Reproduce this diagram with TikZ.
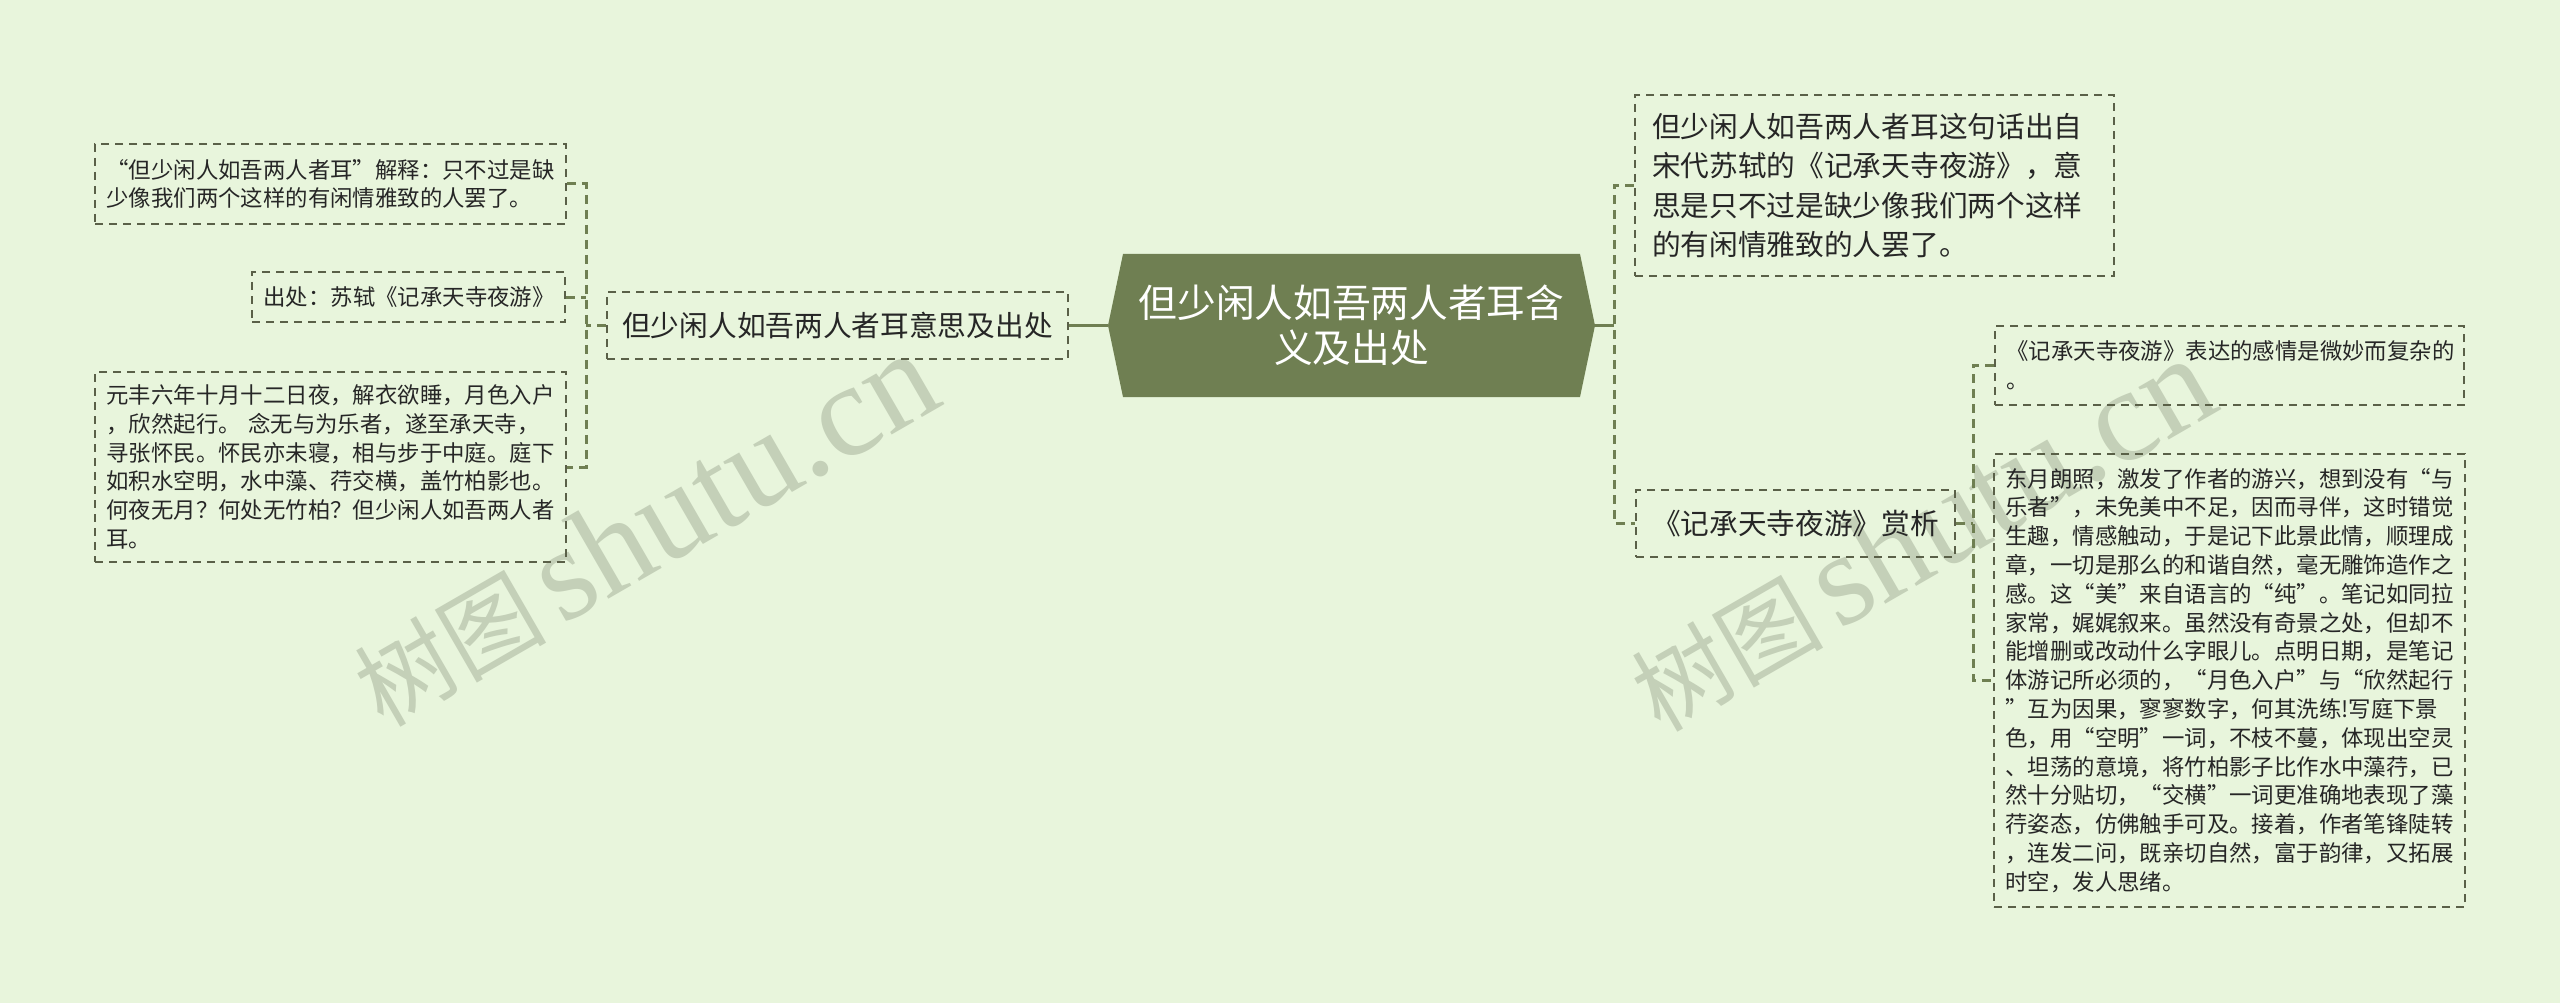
\documentclass[tikz,border=0pt]{standalone}
\usepackage{fontspec}
\setmainfont{Noto Sans CJK SC}
\newfontfamily\wmserif{Liberation Serif}
\usepackage{tikz}

\definecolor{bgpale}{RGB}{232,245,220}
\definecolor{rootgreen}{RGB}{111,127,82}
\definecolor{linkgreen}{RGB}{111,127,82}
\definecolor{boxline}{RGB}{90,96,72}
\definecolor{inktext}{RGB}{38,38,38}
\definecolor{wmgray}{RGB}{196,208,184}

\begin{document}
\begin{tikzpicture}[x=1pt,y=-1pt,
    leaf/.style={draw=boxline, line width=1.6pt, dash pattern=on 8pt off 6pt,
        text=inktext, align=left, inner xsep=11.5pt, inner ysep=0pt,
        font=\fontsize{22.4}{28.8}\selectfont},
    branch/.style={draw=boxline, line width=1.6pt, dash pattern=on 8pt off 6pt,
        text=inktext, align=center, inner sep=0pt,
        font=\fontsize{28.7}{39.2}\selectfont},
    trunk/.style={draw=linkgreen, line width=3.2pt},
    twig/.style={draw=linkgreen, line width=3pt, dash pattern=on 9pt off 6pt},
    watermark/.style={text=wmgray, rotate=30, inner sep=0pt}]

    % Page background
    \fill[bgpale] (0,0) rectangle (2560,1003);
    \useasboundingbox (0,0) rectangle (2560,1003);

    % Watermarks
    \node[watermark] (wmL) at (644,530) {{\fontsize{96}{96}\selectfont 树图}\hspace{14pt}{\wmserif\fontsize{132}{132}\selectfont shutu.cn}};
    \node[watermark] (wmR) at (1921,535) {{\fontsize{96}{96}\selectfont 树图}\hspace{14pt}{\wmserif\fontsize{132}{132}\selectfont shutu.cn}};

    % Corners of the root hexagon
    \coordinate (R1) at (1123,254);
    \coordinate (R2) at (1580,254);
    \coordinate (R3) at (1595,325.5);
    \coordinate (R4) at (1580,397);
    \coordinate (R5) at (1123,397);
    \coordinate (R6) at (1108,325.5);
    \fill[rootgreen] (R1) -- (R2) -- (R3) -- (R4) -- (R5) -- (R6) -- cycle;

    % Root
    \node[text=white, align=center, inner sep=0pt, minimum width=487, minimum height=143,
          font=\fontsize{38.7}{45}\selectfont] (root) at (1351.5,325.5)
          {但少闲人如吾两人者耳含\\义及出处};

    % Left branch and its leaves
    \node[branch, minimum width=461, minimum height=67] (meaning) at (837.5,325.5)
          {但少闲人如吾两人者耳意思及出处};
    \node[leaf, text width=448, minimum height=80] (explain) at (330.5,184)
          {“但少闲人如吾两人者耳”解释：只不过是缺\\少像我们两个这样的有闲情雅致的人罢了。};
    \node[leaf, text width=290, minimum height=50] (source) at (408.5,297)
          {出处：苏轼《记承天寺夜游》};
    \node[leaf, text width=448, minimum height=190] (essay) at (330.5,467)
          {元丰六年十月十二日夜，解衣欲睡，月色入户\\
           ，欣然起行。 念无与为乐者，遂至承天寺，\\
           寻张怀民。怀民亦未寝，相与步于中庭。庭下\\
           如积水空明，水中藻、荇交横，盖竹柏影也。\\
           何夜无月？何处无竹柏？但少闲人如吾两人者\\
           耳。};

    % Right branches and leaves
    \node[branch, align=left, text width=445, inner xsep=17pt, minimum height=181] (origin) at (1874.5,185.5)
          {但少闲人如吾两人者耳这句话出自\\
           宋代苏轼的《记承天寺夜游》，意\\
           思是只不过是缺少像我们两个这样\\
           的有闲情雅致的人罢了。};
    \node[branch, minimum width=319, minimum height=67] (appraise) at (1795.5,523.5)
          {《记承天寺夜游》赏析};
    \node[leaf, text width=446, minimum height=79] (feeling) at (2229.5,365.5)
          {《记承天寺夜游》表达的感情是微妙而复杂的\\。};
    \node[leaf, text width=448, minimum height=453] (analysis) at (2229.5,680.5)
          {东月朗照，激发了作者的游兴，想到没有“与\\
           乐者”，未免美中不足，因而寻伴，这时错觉\\
           生趣，情感触动，于是记下此景此情，顺理成\\
           章，一切是那么的和谐自然，毫无雕饰造作之\\
           感。这“美”来自语言的“纯”。笔记如同拉\\
           家常，娓娓叙来。虽然没有奇景之处，但却不\\
           能增删或改动什么字眼儿。点明日期，是笔记\\
           体游记所必须的，“月色入户”与“欣然起行\\
           ”互为因果，寥寥数字，何其洗练!写庭下景\\
           色，用“空明”一词，不枝不蔓，体现出空灵\\
           、坦荡的意境，将竹柏影子比作水中藻荇，已\\
           然十分贴切，“交横”一词更准确地表现了藻\\
           荇姿态，仿佛触手可及。接着，作者笔锋陡转\\
           ，连发二问，既亲切自然，富于韵律，又拓展\\
           时空，发人思绪。};

    % Junctions of the brackets
    \coordinate (jL) at (586,325.5);
    \coordinate (jR) at (1614,325.5);
    \coordinate (jA) at (1973,523.5);

    % Draw connectors
    \draw[trunk] (root.west) -- (meaning.east);
    \draw[trunk] (root.east) -- (jR);
    \draw[twig] (meaning.west) -- (jL);
    \draw[twig] (explain.east) -| (jL) |- (essay.east);
    \draw[twig] (source.east) -- (source.east -| jL);
    \draw[twig] (origin.west) -| (jR) |- (appraise.west);
    \draw[twig] (appraise.east) -- (jA);
    \draw[twig] (feeling.west) -| (jA) |- (analysis.west);

\end{tikzpicture}
\end{document}
